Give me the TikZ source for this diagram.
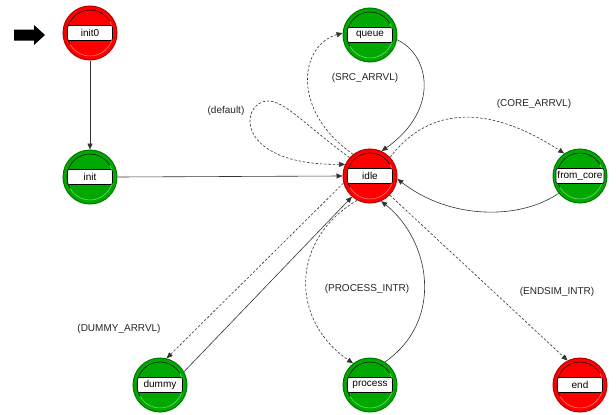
\documentclass[tikz,border=0pt]{standalone}
\usepackage{fontspec}
\setmainfont{Liberation Sans}
\usetikzlibrary{arrows.meta}
\definecolor{stred}{RGB}{255,0,0}
\definecolor{stgreen}{RGB}{0,168,0}
\tikzset{
  stnode/.style={circle, minimum size=54pt, inner sep=0pt, line width=1pt},
  lbl/.style={draw=black, fill=white, line width=0.6pt, rounded corners=2pt,
    minimum width=45pt, minimum height=15pt, inner xsep=1.5pt, inner ysep=0pt,
    font=\fontsize{10}{12}\selectfont},
  elbl/.style={font=\fontsize{10}{12}\selectfont, text=black!85, inner sep=0pt},
  conn/.style={draw=black!80, line width=0.6pt, -{Triangle[length=6pt,width=5pt]}},
  dconn/.style={conn, dash pattern=on 2.5pt off 1.8pt},
}
\newcommand{\mystate}[5]{%
  \node[stnode, fill=#4, draw=#4!72!black] (#1) at (#2,#3) {};
  \draw[black, line width=0.5pt] ([shift={(30:23pt)}]#1.center) arc[start angle=30, end angle=210, radius=23pt];
  \draw[white, opacity=0.55, line width=0.5pt] ([shift={(210:23pt)}]#1.center) arc[start angle=210, end angle=390, radius=23pt];
  \node[lbl] (#1-l) at (#1) {#5};
}
\begin{document}
\begin{tikzpicture}[x=1pt,y=1pt]
\useasboundingbox[fill=white] (0,0) rectangle (616,-415);
% start arrow
\fill[black] (14,-29.5) -- (34,-29.5) -- (34,-25) -- (45,-35) -- (34,-45) -- (34,-40.5) -- (14,-40.5) -- cycle;
% states
\mystate{init0}{90}{-33}{stred}{init0}
\mystate{queue}{370}{-35}{stgreen}{queue}
\mystate{init}{90}{-177}{stgreen}{init}
\mystate{idle}{370}{-176}{stred}{idle}
\mystate{fromcore}{580}{-176}{stgreen}{from\_core}
\mystate{dummy}{160}{-385}{stgreen}{dummy}
\mystate{process}{370}{-385}{stgreen}{process}
\mystate{end}{580}{-385}{stred}{end}
% connectors
\draw[conn] (init0.south) -- (init.north);
\draw[conn] (init.east) -- (idle.west);
\draw[dconn] (idle.128) .. controls (290,-110) and (300,-45) .. (queue.176);
\draw[conn] (queue.-10) .. controls (430,-55) and (440,-110) .. (idle.65);
\draw[dconn] (idle.138) .. controls (305,-125) and (285,-101) .. (268,-101)
  .. controls (240,-101) and (232,-165) .. (idle.155);
\draw[dconn] (idle.43) .. controls (430,-105) and (490,-105) .. (fromcore.125);
\draw[conn] (fromcore.219) .. controls (520,-220) and (450,-220) .. (idle.-6);
\draw[dconn] (idle.195) -- (dummy.76);
\draw[conn] (dummy.29) -- (idle.229);
\draw[dconn] (idle.242) .. controls (290,-240) and (290,-320) .. (process.128);
\draw[conn] (process.57) .. controls (445,-320) and (430,-240) .. (idle.294);
\draw[dconn] (idle.316) -- (end.117);
% labels
\node[elbl] (l-src) at (365,-78) {(SRC\_ARRVL)};
\node[elbl] (l-def) at (226,-111) {(default)};
\node[elbl] (l-core) at (534,-104) {(CORE\_ARRVL)};
\node[elbl] (l-dummy) at (119,-329) {(DUMMY\_ARRVL)};
\node[elbl] (l-proc) at (367,-289) {(PROCESS\_INTR)};
\node[elbl] (l-end) at (557,-292) {(ENDSIM\_INTR)};
\end{tikzpicture}
\end{document}
